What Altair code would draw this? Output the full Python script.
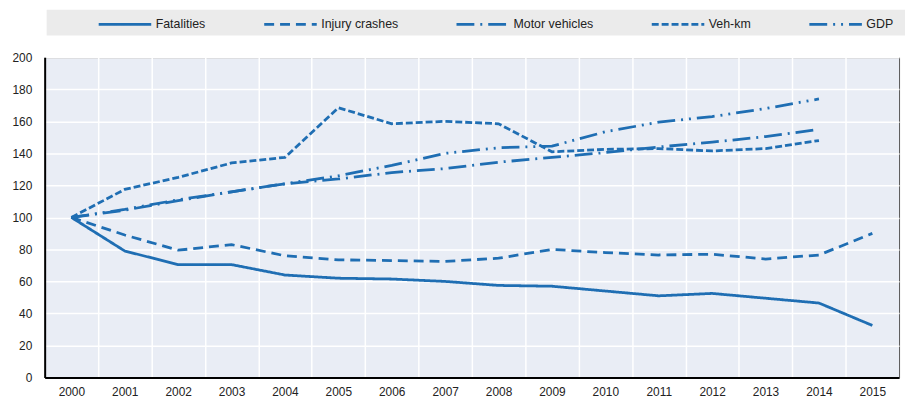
import altair as alt
import pandas as pd

# Index values, 2000 = 100
years = list(range(2000, 2016))
series = ["Fatalities", "Injury crashes", "Motor vehicles", "Veh-km", "GDP"]

fatalities = [100, 79, 70.5, 70.5, 64, 62, 61.5, 60, 57.5, 57, 54, 51, 52.5, 49.5, 46.5, 32.5]
injury_crashes = [100, 89, 79.5, 83, 76, 73.5, 73, 72.5, 74.5, 80, 78, 76.5, 77, 74, 76.5, 90]
motor_vehicles = [100, 104.5, 110.5, 116, 121, 124, 128, 130.5, 134.5, 137.5, 140.5, 144, 147, 150.5, 155]
veh_km = [100, 117.5, 125, 134, 137.5, 168.5, 158.5, 160, 158.5, 141, 142.5, 143, 141.5, 143, 148]
gdp = [100, 105, 111, 116, 121, 126, 132.5, 140, 143.5, 144.5, 153.5, 159.5, 163, 168, 174]

dashes = [[1, 0], [10, 6], [18, 6, 2, 6], [7, 3], [18, 6, 2, 6, 2, 6]]

rows = []
for name, vals in zip(series, [fatalities, injury_crashes, motor_vehicles, veh_km, gdp]):
    for yr, v in zip(years, vals):
        rows.append({"year": yr, "series": name, "value": v})
df = pd.DataFrame(rows)

blue = "#1f6eb3"
grid_vals = [y - 0.5 for y in years]

# grey band behind the legend
band = alt.Chart(pd.DataFrame({"k": [0]})).mark_rect(color="#ebebeb").encode(
    x=alt.value(2), x2=alt.value(868), y=alt.value(-48), y2=alt.value(-22)
)

lines = alt.Chart(df).mark_line(color=blue, strokeWidth=2.8, strokeCap="butt").encode(
    x=alt.X("year:Q",
            scale=alt.Scale(domain=[1999.5, 2015.5], nice=False, zero=False),
            axis=alt.Axis(title=None, values=grid_vals, labelExpr="format(datum.value + 0.5, 'd')",
                          labelOffset=26.9, labelFlush=False, labelOverlap=False,
                          ticks=False, labelPadding=9)),
    y=alt.Y("value:Q",
            scale=alt.Scale(domain=[0, 200], nice=False),
            axis=alt.Axis(title=None, values=list(range(0, 201, 20)), ticks=False,
                          labelPadding=13)),
    strokeDash=alt.StrokeDash("series:N",
                              scale=alt.Scale(domain=series, range=dashes),
                              legend=alt.Legend(title=None, orient="none", direction="horizontal",
                                                legendX=53, legendY=-61.5, padding=0,
                                                symbolType="stroke", symbolSize=2809,
                                                symbolStrokeWidth=3, symbolStrokeColor=blue,
                                                columnPadding=52, labelOffset=3,
                                                labelFont="Liberation Sans, Arial, sans-serif",
                                                labelFontSize=12.5, labelColor="#222")),
    order="year:Q",
)

chart = alt.layer(band, lines).properties(
    width=862,
    height=323,
    autosize="none",
    padding={"left": 37, "top": 48, "right": 6, "bottom": 24},
    background="white",
).configure_view(
    fill="#e9edf5", stroke="#555555", strokeWidth=1
).configure_axis(
    labelFont="Liberation Sans, Arial, sans-serif",
    labelFontSize=12,
    labelColor="#222",
    gridColor="white",
    gridWidth=1.5,
    domainColor="black",
    domainWidth=2,
)

chart.save("out.html", embed_options={"renderer": "svg", "actions": False})
